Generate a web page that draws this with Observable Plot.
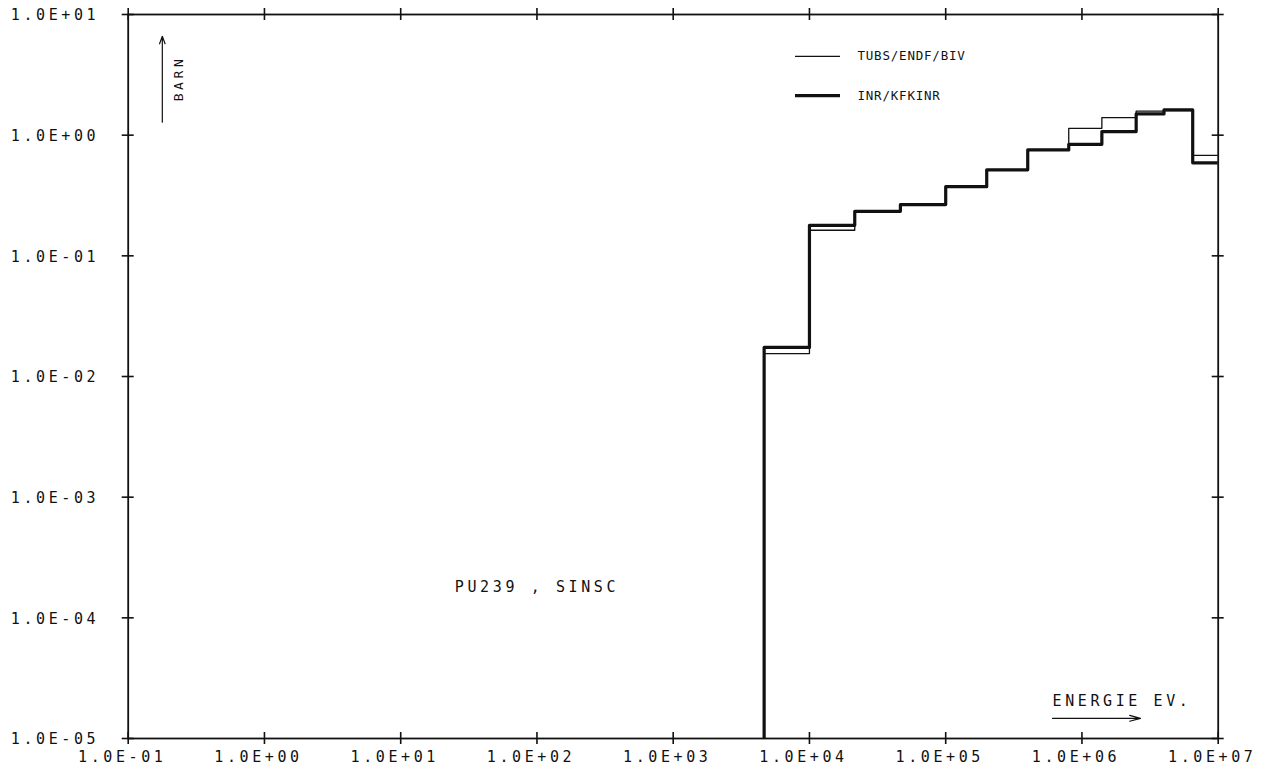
<!DOCTYPE html>
<html>
<head>
<meta charset="utf-8">
<script src="https://cdn.jsdelivr.net/npm/d3@7"></script>
<script src="https://cdn.jsdelivr.net/npm/@observablehq/plot@0.6"></script>
<style>
  html, body { margin: 0; padding: 0; background: #fff; }
  #chart svg { display: block; }
</style>
</head>
<body>
<div id="chart"></div>
<script>
// ---- data (26-group structure, upper groups) ----
const groupEdges = [4650, 10000, 21500, 46500, 100000, 200000, 400000, 800000, 1400000, 2500000, 4000000, 6500000, 10500000];
const tubsValues = [0.0155, 0.163, 0.234, 0.266, 0.374, 0.516, 0.755, 1.14, 1.40, 1.58, 1.60, 0.68];
const inrValues  = [0.0174, 0.179, 0.234, 0.266, 0.374, 0.516, 0.755, 0.84, 1.07, 1.50, 1.62, 0.59];
const seriesNames = ["TUBS/ENDF/BIV", "INR/KFKINR"];

const xTicks = [1e-1, 1e0, 1e1, 1e2, 1e3, 1e4, 1e5, 1e6, 1e7];
const xTickLabels = ["1.0E-01", "1.0E+00", "1.0E+01", "1.0E+02", "1.0E+03", "1.0E+04", "1.0E+05", "1.0E+06", "1.0E+07"];
const yTicks = [1e-5, 1e-4, 1e-3, 1e-2, 1e-1, 1e0, 1e1];
const yTickLabels = ["1.0E-05", "1.0E-04", "1.0E-03", "1.0E-02", "1.0E-01", "1.0E+00", "1.0E+01"];

const xDomain = [1e-1, 1e7];
const yDomain = [1e-5, 1e1];

function stepPoints(values) {
  const pts = [{x: groupEdges[0], y: yDomain[0]}];
  values.forEach((v, i) => pts.push({x: groupEdges[i], y: v}));
  pts.push({x: groupEdges[groupEdges.length - 1], y: values[values.length - 1]});
  return pts;
}
const tubsPts = stepPoints(tubsValues);
const inrPts = stepPoints(inrValues);

const labelFor = (ticks, labels) => d => {
  let best = 0;
  ticks.forEach((t, i) => { if (Math.abs(Math.log10(t) - Math.log10(d)) < Math.abs(Math.log10(ticks[best]) - Math.log10(d))) best = i; });
  return labels[best];
};

const W = 1265, H = 774;
const mL = 127.7, mR = 47.3, mT = 14, mB = 36;
const innerW = W - mL - mR, innerH = H - mT - mB;
const font = "'DejaVu Sans Mono', monospace";

const chart = Plot.plot({
  width: W,
  height: H,
  marginLeft: mL,
  marginRight: mR,
  marginTop: mT,
  marginBottom: mB,
  style: {fontFamily: font, fontSize: "15px", letterSpacing: "3.6px", color: "#111", background: "#fff"},
  x: {type: "log", domain: xDomain, axis: null},
  y: {type: "log", domain: yDomain, axis: null},
  marks: [
    Plot.frame({stroke: "#111", strokeWidth: 1.8}),
    // tick labels
    Plot.text(xTicks, {x: d => d, text: labelFor(xTicks, xTickLabels), frameAnchor: "bottom", dy: 23, dx: -6, fontSize: 15, fill: "#111"}),
    Plot.text(yTicks, {y: d => d, text: labelFor(yTicks, yTickLabels), frameAnchor: "left", textAnchor: "end", dx: -29, dy: 1, fontSize: 15, fill: "#111"}),
    // cross ticks on all four sides
    Plot.tickY(yTicks, {y: d => d, insetLeft: -6, insetRight: innerW - 6, stroke: "#111", strokeWidth: 1.6}),
    Plot.tickY(yTicks, {y: d => d, insetLeft: innerW - 6, insetRight: -6, stroke: "#111", strokeWidth: 1.6}),
    Plot.tickX(xTicks, {x: d => d, insetTop: innerH - 6, insetBottom: -6, stroke: "#111", strokeWidth: 1.6}),
    Plot.tickX(xTicks, {x: d => d, insetTop: -6, insetBottom: innerH - 6, stroke: "#111", strokeWidth: 1.6}),
    // data
    Plot.line(tubsPts, {x: "x", y: "y", curve: "step-after", stroke: "#111", strokeWidth: 1.3, clip: true}),
    Plot.line(inrPts, {x: "x", y: "y", curve: "step-after", stroke: "#111", strokeWidth: 3.2, clip: true}),
    // legend
    Plot.ruleY([4.5], {x1: 7.9e3, x2: 1.69e4, stroke: "#111", strokeWidth: 1.3}),
    Plot.ruleY([2.13], {x1: 7.9e3, x2: 1.69e4, stroke: "#111", strokeWidth: 3.2}),
    Plot.text([seriesNames[0]], {x: 2.25e4, y: 4.5, text: d => d, textAnchor: "start", fontSize: 12.5}),
    Plot.text([seriesNames[1]], {x: 2.25e4, y: 2.13, text: d => d, textAnchor: "start", fontSize: 12.5}),
    // y unit
    Plot.arrow([0], {x1: 0.178, x2: 0.178, y1: 1.28, y2: 6.6, stroke: "#111", strokeWidth: 1.2, headLength: 10, headAngle: 40}),
    Plot.text(["BARN"], {x: 0.236, y: 2.95, text: d => d, rotate: -90, fontSize: 13}),
    // x unit
    Plot.text(["ENERGIE EV."], {x: 6.08e5, y: 2.03e-5, text: d => d, textAnchor: "start", fontSize: 15}),
    Plot.arrow([0], {x1: 6.08e5, x2: 2.69e6, y1: 1.47e-5, y2: 1.47e-5, stroke: "#111", strokeWidth: 1.2, headLength: 14, headAngle: 30}),
    // annotation
    Plot.text(["PU239 , SINSC"], {x: 100, y: 1.78e-4, text: d => d, fontSize: 15})
  ]
});
// legend text: tighter letter spacing than tick labels
chart.querySelectorAll("text").forEach(t => {
  if (t.textContent === seriesNames[0] || t.textContent === seriesNames[1]) t.setAttribute("letter-spacing", "0.8px");
});
document.getElementById("chart").appendChild(chart);
</script>
</body>
</html>
